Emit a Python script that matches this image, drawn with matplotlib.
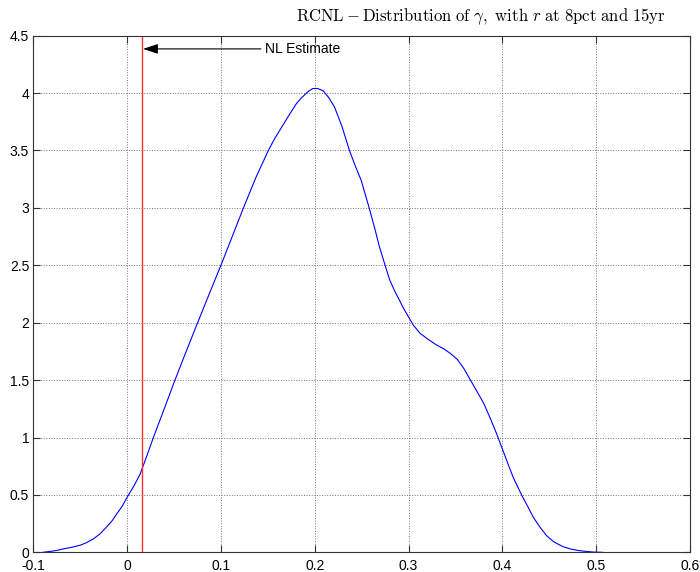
"""
RCNL - distribution of gamma, MATLAB-style density plot
"""
import matplotlib
matplotlib.use('Agg')
import matplotlib.pyplot as plt

plt.rcParams['font.family'] = ['Liberation Sans', 'DejaVu Sans']
plt.rcParams['mathtext.fontset'] = 'cm'

# Density of gamma
gamma = [-0.09, -0.085, -0.08, -0.074, -0.068, -0.06, -0.05, -0.043, -0.036,
         -0.029, -0.022, -0.016, -0.011, -0.005, 0.0, 0.007, 0.0138, 0.021,
         0.028, 0.04, 0.051, 0.062, 0.0727, 0.086, 0.1, 0.112, 0.124, 0.137,
         0.1505, 0.157, 0.163, 0.172, 0.1806, 0.186, 0.19, 0.194, 0.198,
         0.203, 0.209, 0.215, 0.221, 0.229, 0.237, 0.243, 0.2495, 0.258,
         0.264, 0.269, 0.275, 0.28, 0.285, 0.29, 0.295, 0.3, 0.305, 0.312,
         0.32, 0.329, 0.338, 0.345, 0.352, 0.359, 0.366, 0.373, 0.38, 0.388,
         0.394, 0.4, 0.406, 0.4117, 0.4205, 0.427, 0.433, 0.44, 0.447, 0.455,
         0.4645, 0.473, 0.482, 0.49, 0.498, 0.507]
density = [0.0, 0.005, 0.01, 0.018, 0.03, 0.042, 0.062, 0.085, 0.117,
           0.16, 0.22, 0.275, 0.335, 0.405, 0.48, 0.575, 0.68, 0.84,
           1.0, 1.26, 1.5, 1.73, 1.95, 2.22, 2.5, 2.75, 3.0, 3.26,
           3.5, 3.6, 3.68, 3.8, 3.91, 3.96, 3.99, 4.02, 4.04,
           4.04, 4.02, 3.96, 3.88, 3.71, 3.5, 3.37, 3.24, 3.0,
           2.82, 2.66, 2.5, 2.37, 2.28, 2.2, 2.12, 2.05, 1.98, 1.91,
           1.86, 1.81, 1.77, 1.73, 1.68, 1.6, 1.50, 1.40, 1.30, 1.15,
           1.03, 0.90, 0.77, 0.65, 0.50, 0.40, 0.305, 0.22, 0.146, 0.09,
           0.05, 0.028, 0.015, 0.007, 0.002, 0.0]

nl_estimate = 0.016
xticks = [-0.1, 0, 0.1, 0.2, 0.3, 0.4, 0.5, 0.6]
xticklabels = ['-0.1', '0', '0.1', '0.2', '0.3', '0.4', '0.5', '0.6']
yticks = [0, 0.5, 1, 1.5, 2, 2.5, 3, 3.5, 4, 4.5]
yticklabels = ['0', '0.5', '1', '1.5', '2', '2.5', '3', '3.5', '4', '4.5']

fig = plt.figure(figsize=(7, 5.72), dpi=100)
ax = fig.add_axes([0.0476, 0.0344, 0.9381, 0.9032])

ax.plot(gamma, density, color='blue', lw=0.8)
ax.axvline(nl_estimate, color='#ff3030', lw=1.0)

ax.set_xlim(-0.1, 0.6)
ax.set_ylim(0, 4.5)
ax.set_xticks(xticks)
ax.set_xticklabels(xticklabels)
ax.set_yticks(yticks)
ax.set_yticklabels(yticklabels)

ax.grid(True, linestyle=':', color='0.45', lw=0.7)
ax.tick_params(direction='in', length=5, width=0.8, top=True, right=True,
               labelsize=10, color='0.2')
ax.tick_params(axis='x', pad=5)
ax.tick_params(axis='y', pad=3)
for s in ax.spines.values():
    s.set_linewidth(0.8)
    s.set_color('0.2')

# Arrow pointing at the NL estimate
ax.annotate('NL Estimate', xy=(nl_estimate + 0.001, 4.385),
            xytext=(0.147, 4.385), va='center', ha='left', fontsize=10,
            arrowprops=dict(arrowstyle='-|>,head_length=0.9,head_width=0.3',
                            color='black', lw=0.8, shrinkA=1, shrinkB=0))

# Title (LaTeX style)
fig.text(0.687, 0.97,
         r'$\mathrm{RCNL - Distribution\ of\ }\gamma\mathrm{,\ with\ }r'
         r'\mathrm{\ at\ 8pct\ and\ 15yr}$',
         ha='center', va='center', fontsize=12)

fig.savefig('out.png', dpi=100)
